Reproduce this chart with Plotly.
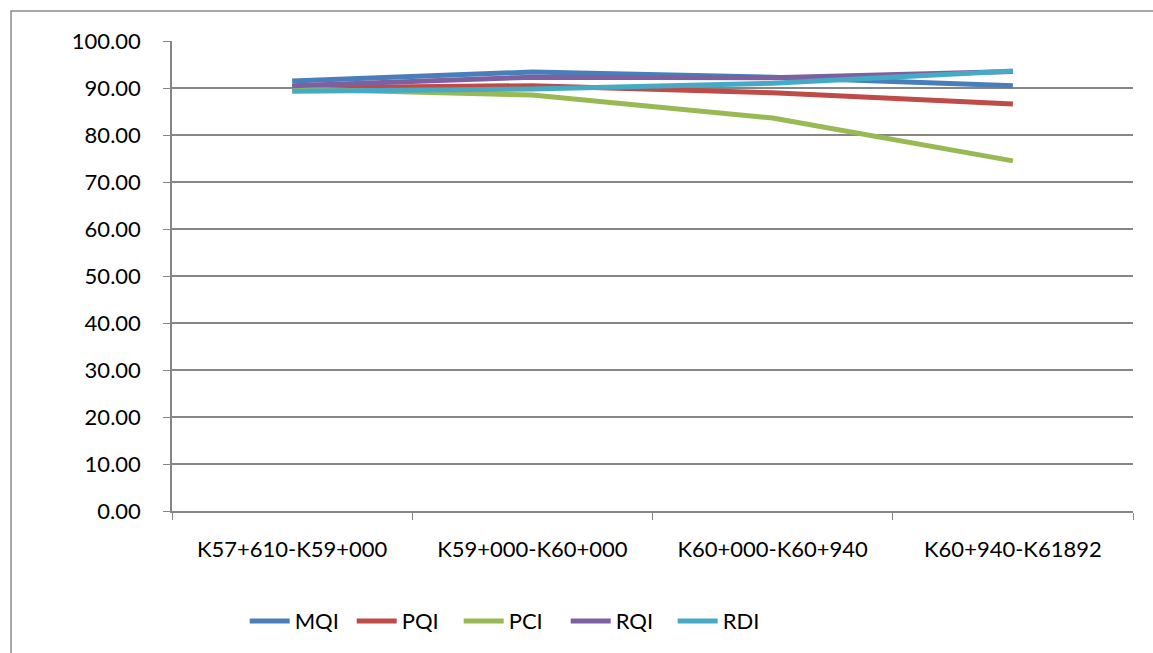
import plotly.graph_objects as go

categories = ["K57+610-K59+000", "K59+000-K60+000", "K60+000-K60+940", "K60+940-K61892"]
mqi = [91.5, 93.4, 92.3, 90.5]
pqi = [90.0, 90.5, 89.0, 86.6]
pci = [89.8, 88.5, 83.6, 74.5]
rqi = [90.5, 92.3, 92.2, 93.5]
rdi = [89.3, 89.8, 91.0, 93.6]

series = [("MQI", mqi, "#4a7ebb"), ("PQI", pqi, "#be4b48"), ("PCI", pci, "#98b954"),
          ("RQI", rqi, "#7d60a0"), ("RDI", rdi, "#46aac5")]

fig = go.Figure()
for name, vals, col in series:
    fig.add_trace(go.Scatter(x=categories, y=vals, name=name, mode="lines",
                             line=dict(color=col, width=5)))

font_family = "Lato, Liberation Sans, sans-serif"
fig.update_layout(
    width=1153, height=653,
    margin=dict(l=172, r=20, t=41, b=141),
    paper_bgcolor="white", plot_bgcolor="white",
    font=dict(family=font_family, size=22, color="black"),
    xaxis=dict(type="category", tickson="boundaries", ticks="outside", ticklen=7,
               tickcolor="#868686", showline=True, linecolor="#868686", linewidth=1.5,
               showgrid=False, tickfont=dict(size=22), range=[-0.5, 3.5],
               ticklabelstandoff=18),
    yaxis=dict(range=[0, 100], dtick=10, tickformat=".2f", ticks="outside", ticklen=7,
               tickcolor="#868686", showline=True, linecolor="#868686", linewidth=1.5,
               gridcolor="#868686", gridwidth=1.5, zeroline=False, tickfont=dict(size=22),
               ticklabelstandoff=18),
    legend=dict(orientation="h", x=0.354, xanchor="center", y=-0.187, yanchor="top",
                font=dict(size=22), entrywidth=52, itemwidth=40, traceorder="normal"),
    shapes=[dict(type="rect", xref="paper", yref="paper", x0=-0.1675, x1=1.2,
                 y0=-0.5, y1=1.0637, line=dict(color="#8c8c8c", width=1.5),
                 fillcolor="rgba(0,0,0,0)", layer="below")],
)

fig.write_html("out.html", config={"displayModeBar": False},
               post_script="document.body.style.margin='0';")
